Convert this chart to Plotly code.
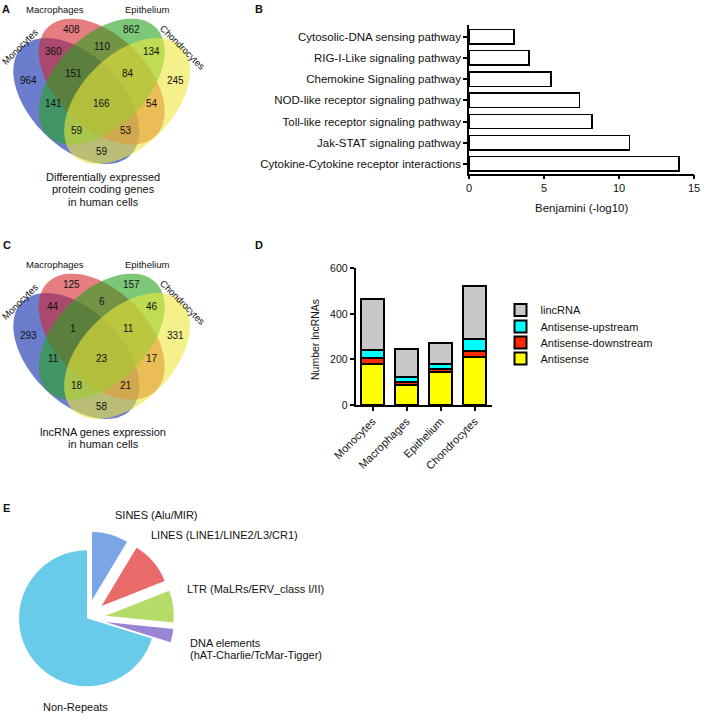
import numpy as np
import plotly.graph_objects as go

W, H = 708, 720
FONT = "Liberation Sans, Arial, Helvetica, sans-serif"
INK = "#111111"

# ---------------- Data ----------------
# Panel B: KEGG pathways (top to bottom)
pathways = [
    "Cytosolic-DNA sensing pathway",
    "RIG-I-Like signaling pathway",
    "Chemokine Signaling pathway",
    "NOD-like receptor signaling pathway",
    "Toll-like receptor signaling pathway",
    "Jak-STAT signaling pathway",
    "Cytokine-Cytokine receptor interactions",
]
benjamini = [3.0, 4.0, 5.45, 7.35, 8.2, 10.7, 14.0]

# Panel D: lncRNA classes per cell type
cell_types = ["Monocytes", "Macrophages", "Epithelium", "Chondrocytes"]
antisense = [180, 88, 143, 212]
antisense_downstream = [27, 13, 17, 26]
antisense_upstream = [34, 20, 22, 52]
lincrna = [226, 125, 89, 233]

# Panels A & C: Venn region counts
venn_sets = ["Monocytes", "Macrophages", "Epithelium", "Chondrocytes"]
venn_regions = ["Mo", "Ma", "Ep", "Ch", "Mo&Ma", "Ma&Ep", "Ep&Ch", "Mo&Ma&Ep",
                "Ma&Ep&Ch", "Mo&Ep", "all", "Ma&Ch", "Mo&Ep&Ch", "Mo&Ma&Ch", "Mo&Ch"]
venn_protein = [964, 408, 862, 245, 360, 110, 134, 151, 84, 141, 166, 54, 59, 53, 59]
venn_lncrna = [293, 125, 157, 331, 44, 6, 46, 1, 11, 11, 23, 17, 18, 21, 58]

# Panel E: repeat content
repeat_labels = ["SINES (Alu/MIR)", "LINES (LINE1/LINE2/L3/CR1)", "LTR (MaLRs/ERV_class I/II)",
                 "DNA elements (hAT-Charlie/TcMar-Tigger)", "Non-Repeats"]
repeat_share = [8.6, 10.4, 7.6, 3.2, 70.2]

# ---------------- Layout helpers (pixel -> paper) ----------------
def px(x):
    return x / W


def py(y):
    return 1 - y / H


annotations = []
shapes = []


def text(x, y, s, size=11, xanchor="center", angle=0, bold=False):
    annotations.append(dict(
        x=px(x), y=py(y), xref="paper", yref="paper", text=f"<b>{s}</b>" if bold else s,
        showarrow=False, xanchor=xanchor, yanchor="middle", textangle=angle,
        font=dict(family=FONT, size=size, color=INK)))


def ellipse_path(c, a, b, major, n=120):
    u = np.asarray(major, float) / np.linalg.norm(major)
    v = np.array([-u[1], u[0]])
    t = np.linspace(0, 2 * np.pi, n, endpoint=False)
    pts = np.asarray(c, float) + np.outer(a * np.cos(t), u) + np.outer(b * np.sin(t), v)
    return "M " + " L ".join(f"{px(x):.5f},{py(y):.5f}" for x, y in pts) + " Z"


# Venn geometry (pixels, panel A origin; y grows downward)
VENN_A, VENN_B = 76.5, 45.6
venn_shapes = [  # (centre, major-axis direction, colour)
    ((76.3, 101.0), (1, 1), "rgba(10,38,172,0.6)"),      # Monocytes
    ((101.7, 81.6), (1, 1), "rgba(212,38,45,0.6)"),      # Macrophages
    ((101.7, 81.6), (1, -1), "rgba(38,163,30,0.6)"),     # Epithelium
    ((127.1, 101.0), (1, -1), "rgba(236,232,60,0.6)"),   # Chondrocytes
]
venn_count_pos = [(28.3, 80), (71.7, 30), (131.7, 30), (175, 80), (53.3, 51.7), (101.7, 46.7),
                  (151.7, 51.7), (73.3, 73.3), (128.3, 73.3), (53.3, 103.3), (101.7, 103.3),
                  (151.7, 103.3), (76.7, 130), (126, 130), (101.7, 151.7)]
venn_label_pos = [(20, 46.7, -45), (55, 9.5, 0), (146.7, 9.5, 0), (182.7, 47.7, 45)]


def draw_venn(counts, dy, caption_lines):
    for c, major, col in venn_shapes:
        shapes.append(dict(type="path", xref="paper", yref="paper",
                           path=ellipse_path((c[0], c[1] + dy), VENN_A, VENN_B, major),
                           fillcolor=col, line=dict(width=0), layer="below"))
    for (x, y), cnt in zip(venn_count_pos, counts):
        text(x, y + dy, str(cnt), size=10)
    for (x, y, ang), name in zip(venn_label_pos, venn_sets):
        text(x, y + dy, name, size=9.5, angle=ang)
    for i, line in enumerate(caption_lines):
        text(103, 176.7 + dy + 12.5 * i, line, size=11)


draw_venn(venn_protein, 0, ["Differentially expressed", "protein coding genes", "in human cells"])
draw_venn(venn_lncrna, 255, ["lncRNA genes expression", "in human cells"])

# ---------------- Figure ----------------
fig = go.Figure()

# Panel B
fig.add_trace(go.Bar(
    x=benjamini, y=pathways, orientation="h", width=0.68,
    marker=dict(color="white", line=dict(color="black", width=1.5)),
    showlegend=False, xaxis="x", yaxis="y"))

# Panel D (one legend per class so the entries can be spaced like the original)
d_series = [("Antisense", antisense, "#ffff00", "legend4"),
            ("Antisense-downstream", antisense_downstream, "#ff2a00", "legend3"),
            ("Antisense-upstream", antisense_upstream, "#00ffff", "legend2"),
            ("lincRNA", lincrna, "#c8c8c8", "legend")]
for name, vals, col, leg in d_series:
    fig.add_trace(go.Bar(
        x=cell_types, y=vals, name=name, legend=leg,
        marker=dict(color=col, line=dict(color="black", width=2)),
        xaxis="x2", yaxis="y2"))

# Panel E
PIE_C = (87.0, 618.3)
PIE_PULL = 0.28
PIE_HALF = 87.0
fig.add_trace(go.Pie(
    labels=repeat_labels, values=repeat_share, sort=False, direction="clockwise", rotation=0,
    pull=[PIE_PULL, PIE_PULL, PIE_PULL, PIE_PULL, 0], textinfo="none", showlegend=False,
    marker=dict(colors=["#7aa6e6", "#ea6a6a", "#b4dc68", "#9a84d4", "#69cbea"], line=dict(width=0)),
    domain=dict(x=[px(PIE_C[0] - PIE_HALF), px(PIE_C[0] + PIE_HALF)],
                y=[py(PIE_C[1] + PIE_HALF), py(PIE_C[1] - PIE_HALF)])))

axis_common = dict(showline=True, linecolor="black", linewidth=1.5, ticks="outside", ticklen=4,
                   tickwidth=1.5, tickcolor="black", showgrid=False, zeroline=False,
                   automargin=False, tickfont=dict(family=FONT, size=11, color=INK))

legend_style = dict(x=px(500.5), xanchor="left", yanchor="middle", bgcolor="rgba(0,0,0,0)",
                    font=dict(family=FONT, size=11, color=INK))

fig.update_layout(
    width=W, height=H, margin=dict(l=0, r=0, t=0, b=0, autoexpand=False),
    paper_bgcolor="white", plot_bgcolor="rgba(0,0,0,0)",
    barmode="stack", bargap=0.31,
    font=dict(family=FONT, size=11, color=INK),
    xaxis=dict(axis_common, domain=[px(469), px(694)], range=[0, 15], tickvals=[0, 5, 10, 15],
               anchor="y"),
    yaxis=dict(axis_common, domain=[py(173.5), py(25)], type="category", categoryorder="array",
               categoryarray=pathways, range=[6.45, -0.55], anchor="x",
               tickfont=dict(family=FONT, size=11.5, color=INK)),
    xaxis2=dict(axis_common, domain=[px(355.5), px(491.7)], type="category", range=[-0.5, 3.5],
                tickangle=-45, anchor="y2"),
    yaxis2=dict(axis_common, domain=[py(405), py(268.3)], range=[0, 600],
                tickvals=[0, 200, 400, 600], anchor="x2",
                tickfont=dict(family=FONT, size=10.5, color=INK)),
    legend=dict(legend_style, y=py(310)),
    legend2=dict(legend_style, y=py(326.5)),
    legend3=dict(legend_style, y=py(342.5)),
    legend4=dict(legend_style, y=py(358.5)),
)

# Axis titles and panel letters
text(581, 208, "Benjamini (-log10)", size=11.5)
text(315, 340, "Number lncRNAs", size=10.5, angle=-90)
for letter, (x, y) in zip("ABCDE", [(6, 9), (259, 9), (7, 245), (259, 245), (6, 508)]):
    text(x, y, letter, size=11, bold=True)

# Pie labels
text(113.3, 514.5, "SINES (Alu/MIR)", xanchor="left")
text(149, 535, "LINES (LINE1/LINE2/L3/CR1)", xanchor="left")
text(185, 589, "LTR (MaLRs/ERV_class I/II)", xanchor="left")
text(187.5, 643, "DNA elements", xanchor="left")
text(187.5, 655, "(hAT-Charlie/TcMar-Tigger)", xanchor="left")
text(75.8, 706.5, "Non-Repeats")

fig.update_layout(annotations=annotations, shapes=shapes)
fig.write_html("out.html", config={"displayModeBar": False},
               post_script="document.body.style.margin='0';")
